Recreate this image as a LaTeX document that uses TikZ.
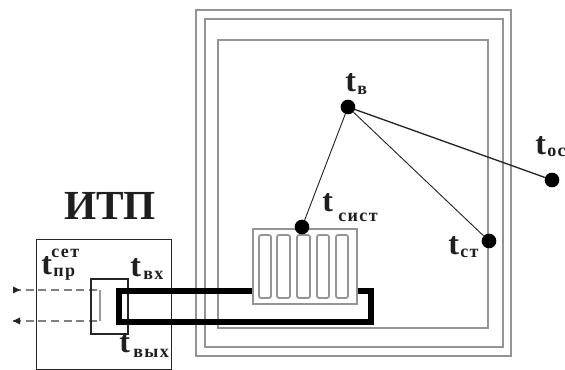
\documentclass[tikz,border=0pt]{standalone}
\usepackage{fontspec}
\setmainfont{Liberation Serif}
\usetikzlibrary{arrows.meta}
\definecolor{wallgray}{gray}{0.58}
\definecolor{txtdark}{gray}{0.12}
\tikzset{
  wall/.style={draw=wallgray,line width=1.4pt},
  fin/.style={draw=wallgray,line width=1.3pt,rounded corners=1.5pt},
  pipe/.style={draw=black,line width=3.9pt,line join=miter},
  box/.style={draw=black!85,line width=0.9pt},
  probe/.style={circle,fill=black,inner sep=0pt,minimum size=11pt},
  link/.style={draw=black!85,line width=0.7pt},
  netline/.style={draw=black!50,line width=0.8pt,dash pattern=on 6pt off 3.5pt},
  lbl/.style={inner sep=0pt,text=txtdark,font=\bfseries},
  tee/.style={lbl,font=\bfseries\fontsize{24}{24}\selectfont},
  sub/.style={lbl,font=\bfseries\fontsize{13.5}{14}\selectfont\addfontfeature{LetterSpace=8}},
}
\begin{document}
\begin{tikzpicture}[x=0.75pt,y=-0.75pt]
\useasboundingbox (0,0) rectangle (565,370);
% walls
\draw[wall] (196,10) rectangle (511,356);
\draw[wall] (205,19) rectangle (503,347);
\draw[wall] (218,40) rectangle (488,328);
% radiator
\node[wall,draw,minimum width=78pt,minimum height=56.25pt,inner sep=0pt,anchor=north west] (rad) at (252,228) {};
\foreach \xa/\xb in {259/271,277/290,297/310,317/329,336/348}{
  \draw[fin] (\xa,235) rectangle (\xb,298);
}
% ITP
\node[lbl,font=\bfseries\fontsize{31}{31}\selectfont] (itp) at (110,206) {ИТП};
\node[box,minimum width=101.25pt,minimum height=97.5pt,inner sep=0pt,anchor=north west] (itpbox) at (36,239) {};
% network lines
\coordinate (netA) at (13,290);
\coordinate (netB) at (13,321);
\coordinate (netC) at (100,290);
\coordinate (netD) at (100,321);
\draw[netline] (netA) -- (netC);
\draw[netline] (netB) -- (netD);
\draw[draw=black!40,line width=0.8pt] (netC) -- (netD);
\fill[black!85] (13,286.5) -- (20,290) -- (13,293.5) -- cycle;
\fill[black!85] (13,321) -- (20,317.5) -- (20,324.5) -- cycle;
% heat exchanger
\node[box,line width=1.6pt,minimum width=27.75pt,minimum height=41pt,inner sep=0pt,anchor=north west] (hx) at (90,278) {};
% pipes
\draw[pipe] (rad.west |- 0,291) -- (119,291) -- (119,322) -- (371,322) -- (371,291) -- (rad.east |- 0,291);
% probes
\node[probe] (tv) at (348,107) {};
\node[probe] (tsist) at (302,227) {};
\node[probe] (tst) at (489,241) {};
\node[probe] (toc) at (552,180) {};
\draw[link] (tv) -- (tsist);
\draw[link] (tv) -- (tst);
\draw[link,line width=1pt] (tv) -- (toc);
% labels
\node[tee,anchor=base west] (l1) at (345,92) {t};
\node[sub,anchor=base west] at (357,95) {в};
\node[tee,anchor=base west] (l2) at (322,212) {t};
\node[sub,anchor=base west] at (338,222) {сист};
\node[tee,anchor=base west] (l3) at (448,255) {t};
\node[sub,anchor=base west] at (460,258) {ст};
\node[tee,anchor=base west] (l4) at (535,155) {t};
\node[sub,anchor=base west] at (547,157) {ос};
\node[tee,anchor=base west] (l5) at (41,275) {t};
\node[sub,anchor=base west] at (51,258) {сет};
\node[sub,anchor=base west] at (53,277) {пр};
\node[tee,anchor=base west] (l6) at (130,277) {t};
\node[sub,anchor=base west] at (143,280) {вх};
\node[tee,anchor=base west] (l7) at (119,353) {t};
\node[sub,anchor=base west] at (133,358) {вых};
\end{tikzpicture}
\end{document}
